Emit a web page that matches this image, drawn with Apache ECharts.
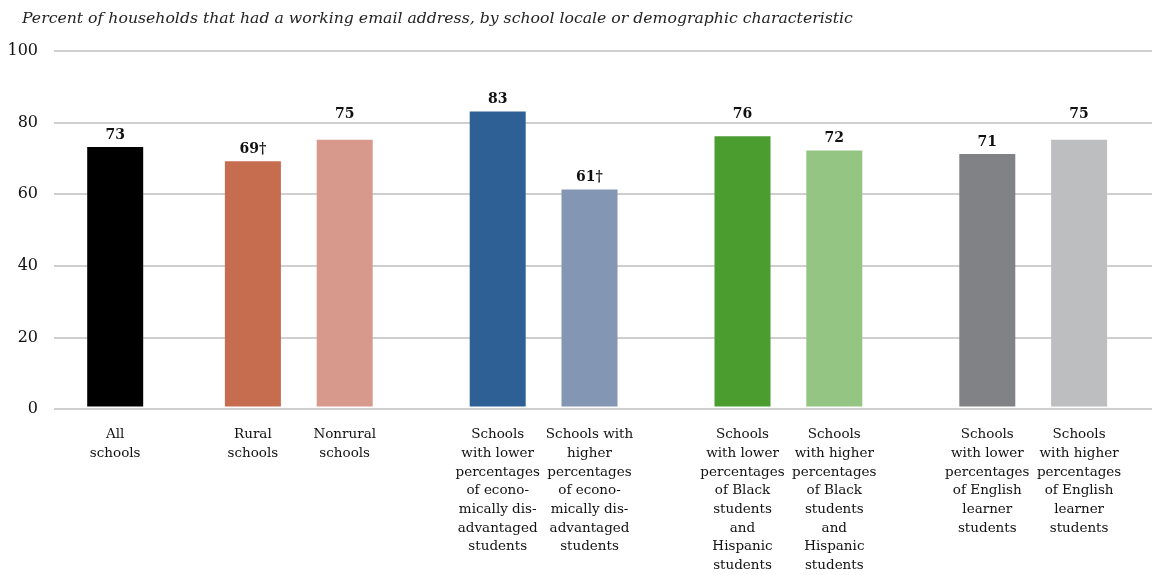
<!DOCTYPE html>
<html><head><meta charset="utf-8">
<script src="https://cdn.jsdelivr.net/npm/echarts@6/dist/echarts.min.js"></script>
<style>html,body{margin:0;padding:0;background:#fff}#c{width:1153px;height:575px}</style>
</head><body><div id="c"></div>
<script>
const title = 'Percent of households that had a working email address, by school locale or demographic characteristic';
const categories = [
  'All\nschools',
  'Rural\nschools',
  'Nonrural\nschools',
  'Schools\nwith lower\npercentages\nof econo-\nmically dis-\nadvantaged\nstudents',
  'Schools with\nhigher\npercentages\nof econo-\nmically dis-\nadvantaged\nstudents',
  'Schools\nwith lower\npercentages\nof Black\nstudents\nand\nHispanic\nstudents',
  'Schools\nwith higher\npercentages\nof Black\nstudents\nand\nHispanic\nstudents',
  'Schools\nwith lower\npercentages\nof English\nlearner\nstudents',
  'Schools\nwith higher\npercentages\nof English\nlearner\nstudents'
];
const values = [73, 69, 75, 83, 61, 76, 72, 71, 75];
const valueLabels = ['73', '69†', '75', '83', '61†', '76', '72', '71', '75'];
const yTicks = [0, 20, 40, 60, 80, 100];

// styling (kept separate from data)
const colors = ['#000000', '#C76D4F', '#D8998D', '#2E6095', '#8396B4', '#4B9D30', '#94C583', '#818285', '#BDBEC0'];
const labelLift = [0, 0, 13, 0, 0, 10, 0, 0, 13];
// slot layout: blank slots before each category, and trailing blanks
const gapBefore = [4, 8, 5, 9, 5, 9, 5, 9, 5];
const gapAfter = 4;

const axisCats = [];
const seriesData = [];
categories.forEach((c, i) => {
  for (let k = 0; k < gapBefore[i]; k++) { axisCats.push(''); seriesData.push('-'); }
  axisCats.push(c);
  seriesData.push({
    value: values[i],
    itemStyle: { color: colors[i] },
    label: { distance: 5 + labelLift[i], formatter: valueLabels[i] }
  });
});
for (let k = 0; k < gapAfter; k++) { axisCats.push(''); seriesData.push('-'); }

const serif = '"DejaVu Serif", "Liberation Serif", serif';
const yMin = yTicks[0], yMax = yTicks[yTicks.length - 1], yStep = yTicks[1] - yTicks[0];
const chart = echarts.init(document.getElementById('c'), null, { renderer: 'canvas' });
chart.setOption({
  animation: false,
  title: {
    text: title, left: 17, top: 6,
    textStyle: { fontFamily: serif, fontStyle: 'italic', fontWeight: 'normal', fontSize: 15.7, color: '#222' }
  },
  grid: [
    { left: 54, right: 12.7, top: 51, bottom: 166, containLabel: false },
    { left: 54, right: 1, top: 51, bottom: 166, containLabel: false }
  ],
  xAxis: [{
    type: 'category', data: axisCats, boundaryGap: false, gridIndex: 0,
    axisLine: { show: false },
    axisTick: { show: false },
    axisLabel: { interval: 0, margin: 19, fontFamily: serif, fontSize: 13.5, lineHeight: 18.7, color: '#111', align: 'center' }
  }, {
    type: 'value', gridIndex: 1, min: 0, max: 1, show: false
  }],
  yAxis: [{
    type: 'value', gridIndex: 0, min: yMin, max: yMax, interval: yStep,
    axisLine: { show: false }, axisTick: { show: false },
    splitLine: { show: false }, axisLabel: { show: false }
  }, {
    type: 'value', gridIndex: 1, min: yMin, max: yMax, interval: yStep,
    axisLine: { show: false }, axisTick: { show: false },
    splitLine: { lineStyle: { color: '#BFBFBF', width: 1.5 } },
    axisLabel: { margin: 16, fontFamily: serif, fontSize: 16, color: '#111' }
  }],
  series: [{
    type: 'bar', xAxisIndex: 0, yAxisIndex: 0, data: seriesData, barWidth: 56, z: 3,
    label: { show: true, position: 'top', fontFamily: serif, fontWeight: 'bold', fontSize: 14, color: '#111' }
  }]
});
</script></body></html>
